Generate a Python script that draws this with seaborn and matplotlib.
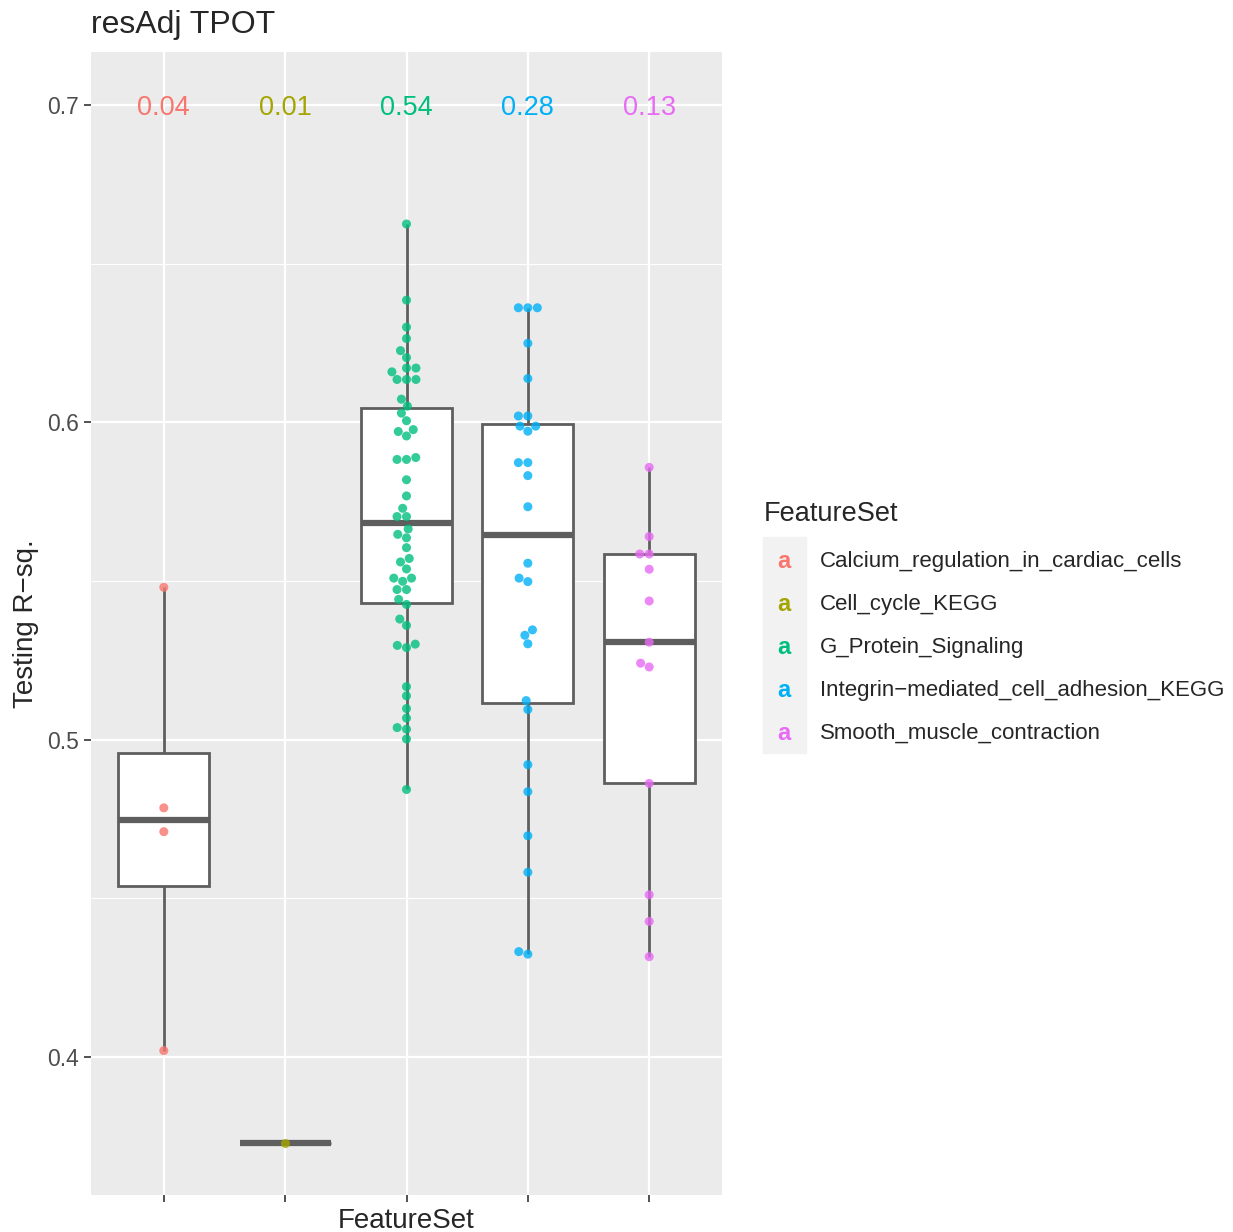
import pandas as pd
import numpy as np
import matplotlib
matplotlib.use('Agg')
import matplotlib.pyplot as plt
import matplotlib.patches as mpatches
import seaborn as sns

# Data
feature_sets = ['Calcium_regulation_in_cardiac_cells', 'Cell_cycle_KEGG', 'G_Protein_Signaling',
                'Integrin-mediated_cell_adhesion_KEGG', 'Smooth_muscle_contraction']
legend_labels = ['Calcium_regulation_in_cardiac_cells', 'Cell_cycle_KEGG', 'G_Protein_Signaling',
                 'Integrin\u2212mediated_cell_adhesion_KEGG', 'Smooth_muscle_contraction']
palette = ['#F8766D', '#A3A500', '#00BF7D', '#00B0F6', '#E76BF3']
top_labels = ['0.04', '0.01', '0.54', '0.28', '0.13']

calcium = [0.548, 0.4785, 0.471, 0.402]
cell_cycle = [0.3729]
g_protein = [0.6625, 0.6385, 0.630, 0.6264, 0.6226, 0.6204, 0.6171, 0.6171, 0.6159, 0.6135,
             0.6135, 0.6135, 0.6073, 0.6051, 0.6029, 0.6005, 0.5977, 0.5971, 0.5957, 0.5889,
             0.5883, 0.5883, 0.5819, 0.5768, 0.5729, 0.5703, 0.5703, 0.5664, 0.5647, 0.5636,
             0.5605, 0.5571, 0.556, 0.5538, 0.5509, 0.5509, 0.5499, 0.5473, 0.5473, 0.5442,
             0.5426, 0.538, 0.536, 0.5301, 0.5297, 0.529, 0.5167, 0.5138, 0.5098, 0.5068,
             0.5038, 0.5033, 0.5002, 0.4843]
integrin = [0.6361, 0.6361, 0.6361, 0.6249, 0.6138, 0.602, 0.602, 0.5988, 0.5988, 0.5972,
            0.5873, 0.5873, 0.5832, 0.5734, 0.5556, 0.5509, 0.5498, 0.5346, 0.5329, 0.5302,
            0.5123, 0.5095, 0.4921, 0.4836, 0.4697, 0.4582, 0.4332, 0.4324]
smooth = [0.5858, 0.564, 0.5585, 0.5585, 0.5537, 0.5437, 0.5307, 0.5241, 0.5229, 0.4862,
          0.4511, 0.4427, 0.4316]

values = [calcium, cell_cycle, g_protein, integrin, smooth]
df = pd.DataFrame({
    'FeatureSet': np.repeat(feature_sets, [len(v) for v in values]),
    'R2': np.concatenate(values),
})

sns.set_theme(style='darkgrid')
plt.rcParams['font.family'] = ['Liberation Sans', 'DejaVu Sans']

fig = plt.figure(figsize=(12.33, 12.32), dpi=100)
ax = fig.add_axes([91 / 1233, 1 - 1195 / 1232, 631 / 1233, 1143 / 1232])
ax.set_facecolor('#EBEBEB')

box_col = '#5e5e5e'
sns.boxplot(data=df, x='FeatureSet', y='R2', order=feature_sets, color='white', width=0.75,
            linecolor=box_col, linewidth=2, showfliers=False, showcaps=False,
            medianprops=dict(linewidth=4.5, color=box_col), ax=ax)
sns.swarmplot(data=df, x='FeatureSet', y='R2', order=feature_sets, hue='FeatureSet',
              hue_order=feature_sets, palette=palette, size=6.5, alpha=0.8, legend=False,
              ax=ax, zorder=4)

for i, (lab, c) in enumerate(zip(top_labels, palette)):
    ax.text(i, 0.7, lab, color=c, ha='center', va='center_baseline', fontsize=19.5)

ax.set_xlim(-0.6, 4.6)
ax.set_ylim(0.3565, 0.7167)
ax.set_yticks([0.4, 0.5, 0.6, 0.7])
ax.set_yticklabels(['0.4', '0.5', '0.6', '0.7'])
ax.set_yticks([0.45, 0.55, 0.65], minor=True)
ax.set_xticklabels([])
ax.grid(which='major', color='white', linewidth=1.6)
ax.grid(which='minor', axis='y', color='white', linewidth=0.8)
ax.set_axisbelow(True)
for s in ax.spines.values():
    s.set_visible(False)
ax.tick_params(axis='both', which='major', length=5, width=1.2, color='#333333',
               labelcolor='#4D4D4D', labelsize=16.5, pad=4, bottom=True, left=True)
ax.tick_params(axis='y', which='minor', length=0)
ax.set_xlabel('')
ax.set_ylabel('')

fig.text(91 / 1233, 1 - 22 / 1232, 'resAdj TPOT', ha='left', va='center_baseline', fontsize=23)
fig.text(26 / 1233, 1 - 624 / 1232, 'Testing R\u2212sq.', rotation=90, ha='center', va='center', fontsize=20)
fig.text(406 / 1233, 1 - 1228 / 1232, 'FeatureSet', ha='center', va='baseline', fontsize=20)

# legend
fig.text(764 / 1233, 1 - 511 / 1232, 'FeatureSet', ha='left', va='center_baseline', fontsize=19.5)
fig.patches.append(mpatches.Rectangle((763 / 1233, 1 - 753 / 1232), 43 / 1233, 216 / 1232,
                                      transform=fig.transFigure, color='#F2F2F2', zorder=0))
for i, (lab, c) in enumerate(zip(legend_labels, palette)):
    y = 1 - (559 + 43 * i) / 1232
    fig.text(784 / 1233, y, 'a', color=c, ha='center', va='center_baseline', fontsize=17, fontweight='bold')
    fig.text(820 / 1233, y, lab, ha='left', va='center_baseline', fontsize=16)

fig.savefig('out.png', dpi=100)
